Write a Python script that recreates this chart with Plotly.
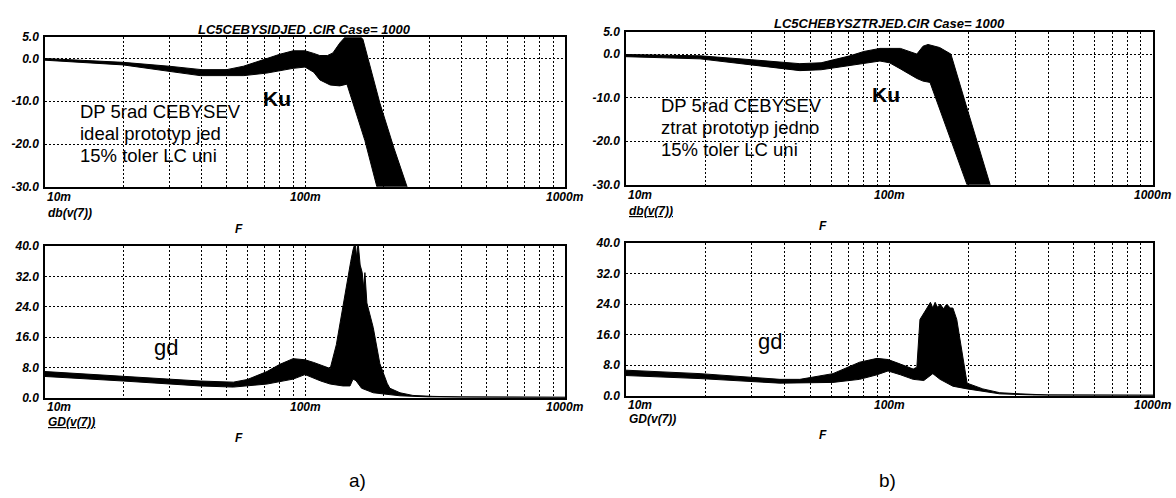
import math
import plotly.graph_objects as go

W, H = 1176, 498

# ---------------- data ----------------
# Panel a) top : db(v(7)) envelope of the Monte Carlo run
A_KU_UP_F = [0.01, 0.02, 0.03, 0.04, 0.05, 0.058, 0.0714, 0.08, 0.09, 0.1, 0.108, 0.114, 0.122,
             0.128, 0.136, 0.145, 0.15, 0.158, 0.167, 0.18, 0.194, 0.22, 0.247, 0.26]
A_KU_UP = [0.0, -0.9, -1.8, -2.6, -2.6, -1.8, 0.0, 1.0, 1.8, 1.8, 1.2, 0.7, 0.7,
           1.3, 3.6, 5.5, 6.0, 6.0, 4.5, -3.0, -10.4, -21.0, -30.0, -34.0]
A_KU_LO_F = [0.01, 0.02, 0.03, 0.0395, 0.05, 0.0582, 0.0714, 0.09, 0.1, 0.108, 0.114, 0.125,
             0.136, 0.145, 0.155, 0.17, 0.189, 0.2]
A_KU_LO = [-0.4, -1.5, -3.0, -4.0, -4.0, -4.0, -3.4, -2.3, -2.0, -3.2, -5.0, -6.2,
           -6.4, -6.0, -11.4, -19.2, -30.0, -34.0]

# Panel a) bottom : GD(v(7))
A_GD_UP_F = [0.01, 0.02, 0.0395, 0.053, 0.06, 0.0714, 0.08, 0.09, 0.1, 0.108, 0.115, 0.125,
             0.132, 0.138, 0.145, 0.15, 0.153, 0.156, 0.158, 0.16, 0.163, 0.166, 0.168, 0.17,
             0.173, 0.183, 0.194, 0.207, 0.212, 0.232, 0.26, 0.31, 0.4, 1.0]
A_GD_UP = [6.9, 5.6, 4.4, 4.1, 4.8, 6.9, 8.8, 10.3, 10.0, 9.3, 8.7, 7.7,
           14.0, 22.0, 31.0, 36.0, 39.0, 41.0, 37.0, 41.0, 35.0, 33.0, 29.0, 33.0,
           25.0, 18.5, 9.0, 3.8, 2.5, 1.3, 0.6, 0.35, 0.2, 0.15]
A_GD_LO_F = [0.01, 0.02, 0.0395, 0.053, 0.0714, 0.09, 0.1, 0.115, 0.125, 0.14, 0.149, 0.153,
             0.157, 0.165, 0.183, 0.232, 0.3, 1.0]
A_GD_LO = [5.6, 4.4, 3.1, 2.8, 3.6, 4.9, 6.1, 4.4, 3.6, 3.1, 3.1, 4.9,
           4.5, 2.5, 1.3, 0.5, 0.2, 0.1]

# Panel b) top : db(v(7))
B_KU_UP_F = [0.01, 0.0191, 0.03, 0.0457, 0.055, 0.0708, 0.08, 0.092, 0.11, 0.12, 0.127, 0.134,
             0.14, 0.155, 0.171, 0.2, 0.241, 0.26]
B_KU_UP = [-0.1, -0.4, -1.3, -2.2, -2.0, -0.4, 0.6, 1.3, 1.3, 0.6, 0.0, 1.8,
           2.2, 1.5, 0.0, -13.8, -30.0, -34.0]
B_KU_LO_F = [0.01, 0.0191, 0.03, 0.0457, 0.055, 0.0708, 0.092, 0.1, 0.11, 0.127, 0.134, 0.1425,
             0.167, 0.197, 0.21]
B_KU_LO = [-0.6, -1.1, -2.5, -3.8, -3.6, -2.7, -1.6, -2.0, -3.4, -5.6, -6.2, -6.5,
           -17.8, -30.0, -34.0]

# Panel b) bottom : GD(v(7))
B_GD_UP_F = [0.01, 0.0191, 0.0384, 0.0457, 0.061, 0.077, 0.0897, 0.0987, 0.11, 0.123, 0.127,
             0.1305, 0.1388, 0.143, 0.146, 0.149, 0.152, 0.156, 0.16, 0.165, 0.17, 0.174,
             0.18, 0.19, 0.197, 0.226, 0.262, 0.313, 0.4, 1.0]
B_GD_UP = [6.7, 5.8, 4.3, 4.3, 5.8, 8.8, 9.8, 9.5, 8.3, 7.0, 7.5,
           20.0, 23.0, 24.5, 23.0, 24.5, 23.2, 24.0, 22.8, 24.0, 23.0, 23.0,
           20.0, 10.0, 3.3, 1.8, 0.8, 0.5, 0.2, 0.15]
B_GD_LO_F = [0.01, 0.0191, 0.0384, 0.0457, 0.061, 0.077, 0.0897, 0.0987, 0.11, 0.123, 0.135,
             0.146, 0.1555, 0.174, 0.197, 0.262, 0.35, 1.0]
B_GD_LO = [5.3, 4.5, 3.3, 3.3, 3.5, 4.3, 5.5, 6.5, 5.5, 4.3, 4.0,
           5.8, 4.3, 2.5, 1.8, 0.5, 0.2, 0.1]

# axes ticks
X_GRID = [0.02, 0.03, 0.04, 0.05, 0.06, 0.07, 0.08, 0.09, 0.1,
          0.2, 0.3, 0.4, 0.5, 0.6, 0.7, 0.8, 0.9]
X_TICK_VALS = [0.01, 0.1, 1.0]
X_TICK_TEXT = ["10m", "100m", "1000m"]
KU_TICKS = [5, 0, -10, -20, -30]
KU_TICK_TEXT = ["5.0", "0.0", "-10.0", "-20.0", "-30.0"]
GD_TICKS = [0, 8, 16, 24, 32, 40]
GD_TICK_TEXT = ["0.0", "8.0", "16.0", "24.0", "32.0", "40.0"]

TITLES = ["LC5CEBYSIDJED .CIR Case= 1000", "LC5CHEBYSZTRJED.CIR Case= 1000"]
NOTES_A = ["DP 5rad CEBYSEV", "ideal prototyp jed", "15% toler LC uni"]
NOTES_B = ["DP 5rad CEBYSEV", "ztrat prototyp jedno", "15% toler LC uni"]

# ---------------- layout helpers ----------------
def px(x):
    return x / W

def py(y):
    return 1 - y / H

FONT = "Liberation Sans, Arial, sans-serif"

# panel pixel boxes: (left, right, top, bottom)
BOXES = {
    "a_top": (45, 565, 31, 185),
    "a_bot": (45, 565, 246, 402),
    "b_top": (626, 1153, 26, 183),
    "b_bot": (626, 1153, 243, 400),
}

fig = go.Figure()

panels = [
    ("a_top", "x", "y", A_KU_UP_F, A_KU_UP, A_KU_LO_F, A_KU_LO),
    ("a_bot", "x2", "y2", A_GD_UP_F, A_GD_UP, A_GD_LO_F, A_GD_LO),
    ("b_top", "x3", "y3", B_KU_UP_F, B_KU_UP, B_KU_LO_F, B_KU_LO),
    ("b_bot", "x4", "y4", B_GD_UP_F, B_GD_UP, B_GD_LO_F, B_GD_LO),
]

for name, xa, ya, uf, uv, lf, lv in panels:
    xs = list(uf) + list(reversed(lf))
    ys = list(uv) + list(reversed(lv))
    fig.add_trace(go.Scatter(x=xs, y=ys, xaxis=xa, yaxis=ya, mode="lines",
                             fill="toself", fillcolor="black",
                             line=dict(color="black", width=1),
                             hoverinfo="skip", showlegend=False))

tickfont = dict(family=FONT, size=12, color="black", weight="bold", style="italic")

layout = dict(width=W, height=H, margin=dict(l=0, r=0, t=0, b=0),
              paper_bgcolor="white", plot_bgcolor="white", showlegend=False)

axis_ids = [("a_top", "xaxis", "yaxis", "y", "x", KU_TICKS, KU_TICK_TEXT, [-30, 5]),
            ("a_bot", "xaxis2", "yaxis2", "y2", "x2", GD_TICKS, GD_TICK_TEXT, [0, 40]),
            ("b_top", "xaxis3", "yaxis3", "y3", "x3", KU_TICKS, KU_TICK_TEXT, [-30, 5]),
            ("b_bot", "xaxis4", "yaxis4", "y4", "x4", GD_TICKS, GD_TICK_TEXT, [0, 40])]

for name, xk, yk, yanc, xanc, tv, tt, yr in axis_ids:
    l, r, t, b = BOXES[name]
    layout[xk] = dict(type="log", range=[-2, 0], domain=[px(l), px(r)], anchor=yanc,
                      tickvals=X_GRID, showticklabels=False, ticks="",
                      showgrid=True, gridcolor="black", gridwidth=1, griddash="2px,2px",
                      showline=True, mirror=True, linecolor="black", linewidth=1.5,
                      zeroline=False, fixedrange=True)
    layout[yk] = dict(range=yr, domain=[py(b), py(t)], anchor=xanc,
                      tickvals=tv, ticktext=tt, tickfont=tickfont, ticks="",
                      showgrid=True, gridcolor="black", gridwidth=1, griddash="2px,2px",
                      showline=True, mirror=True, linecolor="black", linewidth=1.5,
                      zeroline=False, fixedrange=True, ticklabelstandoff=2)

fig.update_layout(**layout)

ann = []
lab = dict(family=FONT, size=12, color="black", weight="bold", style="italic")
ttl = dict(family=FONT, size=13, color="black", weight="bold", style="italic")

# x tick labels (bold italic, Micro-Cap style)
for name, xr in [("a_top", "x"), ("a_bot", "x2"), ("b_top", "x3"), ("b_bot", "x4")]:
    l, r, t, b = BOXES[name]
    for v, txt in zip(X_TICK_VALS, X_TICK_TEXT):
        anchor = "left" if v == X_TICK_VALS[0] else "center"
        ann.append(dict(x=math.log10(v), xref=xr, y=py(b + 10), yref="paper",
                        text=txt, showarrow=False, xanchor=anchor, yanchor="middle", font=lab))

# titles
ann.append(dict(x=px(304), y=py(23), xref="paper", yref="paper", text=TITLES[0],
                showarrow=False, xanchor="center", yanchor="middle", font=ttl))
ann.append(dict(x=px(889), y=py(17), xref="paper", yref="paper", text=TITLES[1],
                showarrow=False, xanchor="center", yanchor="middle", font=ttl))

# y-quantity labels and F labels
ylabels = [(46, 212, "db(v(7))"), (46, 427, "<u>GD(v(7))</u>"),
           (627, 210, "<u>db(v(7))</u>"), (627, 424, "GD(v(7))")]
for x, y, txt in ylabels:
    ann.append(dict(x=px(x), y=py(y), xref="paper", yref="paper", text=txt,
                    showarrow=False, xanchor="left", yanchor="middle", font=lab))
for x, y in [(239, 228), (239, 443), (823, 225), (823, 440)]:
    ann.append(dict(x=px(x), y=py(y), xref="paper", yref="paper", text="F",
                    showarrow=False, xanchor="center", yanchor="middle", font=lab))

# descriptive notes (one annotation per line)
note_font = dict(family=FONT, size=18.5, color="black")
for i, line in enumerate(NOTES_A):
    ann.append(dict(x=px(78), y=py(108 + 22.5 * i), xref="paper", yref="paper", text=line,
                    showarrow=False, xanchor="left", yanchor="middle", font=note_font))
for i, line in enumerate(NOTES_B):
    ann.append(dict(x=px(659), y=py(101 + 23 * i), xref="paper", yref="paper", text=line,
                    showarrow=False, xanchor="left", yanchor="middle", font=note_font))

big = dict(family=FONT, size=21, color="black", weight="bold")
ann.append(dict(x=px(277), y=py(94), xref="paper", yref="paper", text="Ku",
                showarrow=False, xanchor="center", yanchor="middle", font=big))
ann.append(dict(x=px(886), y=py(90), xref="paper", yref="paper", text="Ku",
                showarrow=False, xanchor="center", yanchor="middle", font=big))
gdf = dict(family=FONT, size=22, color="black")
ann.append(dict(x=px(166), y=py(350), xref="paper", yref="paper", text="gd",
                showarrow=False, xanchor="center", yanchor="middle", font=gdf))
ann.append(dict(x=px(770), y=py(344), xref="paper", yref="paper", text="gd",
                showarrow=False, xanchor="center", yanchor="middle", font=gdf))

sub = dict(family=FONT, size=19, color="black")
ann.append(dict(x=px(357), y=py(487), xref="paper", yref="paper", text="a)",
                showarrow=False, xanchor="center", yanchor="middle", font=sub))
ann.append(dict(x=px(887), y=py(487), xref="paper", yref="paper", text="b)",
                showarrow=False, xanchor="center", yanchor="middle", font=sub))

fig.update_layout(annotations=ann)
fig.write_html("out.html")
